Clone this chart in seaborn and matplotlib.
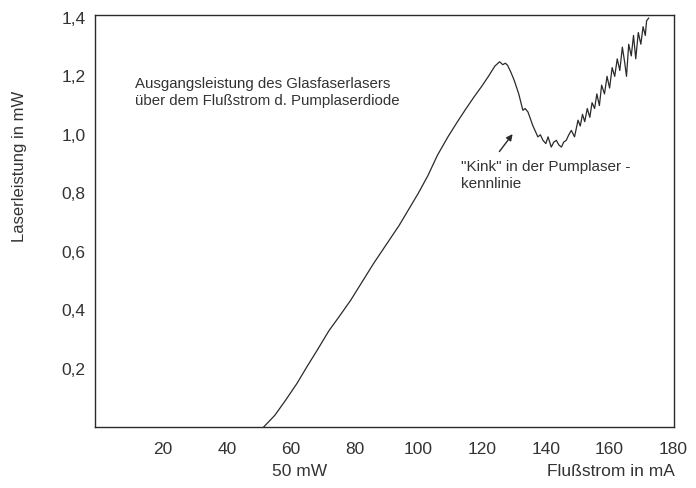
import matplotlib
matplotlib.use("Agg")
import matplotlib.pyplot as plt
import seaborn as sns
import pandas as pd

current_mA = [51.5, 55, 58.4, 62, 65, 68.3, 72, 75, 78.8, 82, 86, 90, 94, 97, 100, 103, 106,
              109.3, 112, 115, 117.5, 119.7, 122, 124, 125.5, 126.5, 127.3, 128, 129, 130.1,
              131.5, 132.8, 133.5, 134.4, 135.9, 137.5, 138.3, 139.1, 140, 140.7, 141.7, 142.5,
              143.3, 144.1, 144.9, 145.6, 146.4, 147.2, 148, 149, 150.1, 150.8, 151.5, 152.2,
              153, 153.8, 154.5, 155.3, 156, 156.8, 157.5, 158.4, 159.2, 160, 160.8, 161.6,
              162.4, 163.2, 164, 164.7, 165.3, 166, 166.8, 167.5, 168.2, 169, 169.8, 170.5,
              171.2, 171.6, 172.3]
power_mW = [0.0, 0.04, 0.092, 0.15, 0.205, 0.263, 0.33, 0.375, 0.434, 0.49, 0.56, 0.625, 0.69,
            0.745, 0.80, 0.86, 0.93, 0.993, 1.04, 1.09, 1.13, 1.163, 1.20, 1.235, 1.25, 1.24,
            1.245, 1.238, 1.215, 1.186, 1.14, 1.084, 1.09, 1.078, 1.032, 0.993, 1.0, 0.981,
            0.97, 0.993, 0.958, 0.975, 0.981, 0.965, 0.958, 0.975, 0.981, 1.0, 1.015, 0.993,
            1.05, 1.03, 1.07, 1.045, 1.09, 1.06, 1.11, 1.09, 1.14, 1.10, 1.17, 1.14, 1.2, 1.16,
            1.23, 1.2, 1.26, 1.22, 1.30, 1.25, 1.20, 1.31, 1.27, 1.34, 1.26, 1.35, 1.31, 1.37,
            1.34, 1.39, 1.40]

x_ticks = [20, 40, 60, 80, 100, 120, 140, 160, 180]
y_ticks = [0.2, 0.4, 0.6, 0.8, 1.0, 1.2, 1.4]
y_labels = ["0,2", "0,4", "0,6", "0,8", "1,0", "1,2", "1,4"]

sns.set_theme(style="white")
plt.rcParams['font.family'] = ['Liberation Sans', 'DejaVu Sans']

df = pd.DataFrame({"I": current_mA, "P": power_mW})

fig = plt.figure(figsize=(6.96, 4.88), dpi=100)
ax = fig.add_axes([95/696, 61/488, (674-95)/696, (427-15)/488])

sns.lineplot(data=df, x="I", y="P", ax=ax, color="#2a2a2a", linewidth=0.9, estimator=None)

ax.set_xlim(-1.4, 180.2)
ax.set_ylim(0, 1.41)
ax.set_xticks(x_ticks)
ax.set_xticklabels([str(v) for v in x_ticks])
ax.set_xticks([10, 30, 50, 70, 90, 110, 130, 150, 170], minor=True)
ax.set_yticks(y_ticks)
ax.set_yticklabels(y_labels)
ax.tick_params(axis="x", which="both", direction="inout", length=5, width=0.9,
               colors="#333333", labelsize=12.5, pad=8)
ax.tick_params(axis="y", which="both", direction="out", length=4, width=0.9,
               colors="#333333", labelsize=12.5, pad=3)
for s in ax.spines.values():
    s.set_color("#2a2a2a")
    s.set_linewidth(1.0)
ax.set_xlabel("")
ax.set_ylabel("")

fig.text(20/696, 1 - 166/488, "Laserleistung in mW", rotation=90, ha="center", va="center",
         fontsize=12, color="#333333")
fig.text(611/696, 1 - 471/488, "Flußstrom in mA", ha="center", va="center",
         fontsize=12.5, color="#333333")
fig.text(300/696, 1 - 471/488, "50 mW", ha="center", va="center",
         fontsize=12.5, color="#333333")

ax.text(11, 1.145, "Ausgangsleistung des Glasfaserlasers\nüber dem Flußstrom d. Pumplaserdiode",
        ha="left", va="center", fontsize=10.8, color="#333333", linespacing=1.35)
ax.text(113.5, 0.86, "\"Kink\" in der Pumplaser -\nkennlinie",
        ha="left", va="center", fontsize=11, color="#333333", linespacing=1.3)
ax.annotate("", xy=(130.1, 1.01), xytext=(124.9, 0.935),
            arrowprops=dict(arrowstyle="-|>", color="#2a2a2a", lw=1.0, mutation_scale=9))

fig.savefig("out.png", dpi=100, facecolor="white")
